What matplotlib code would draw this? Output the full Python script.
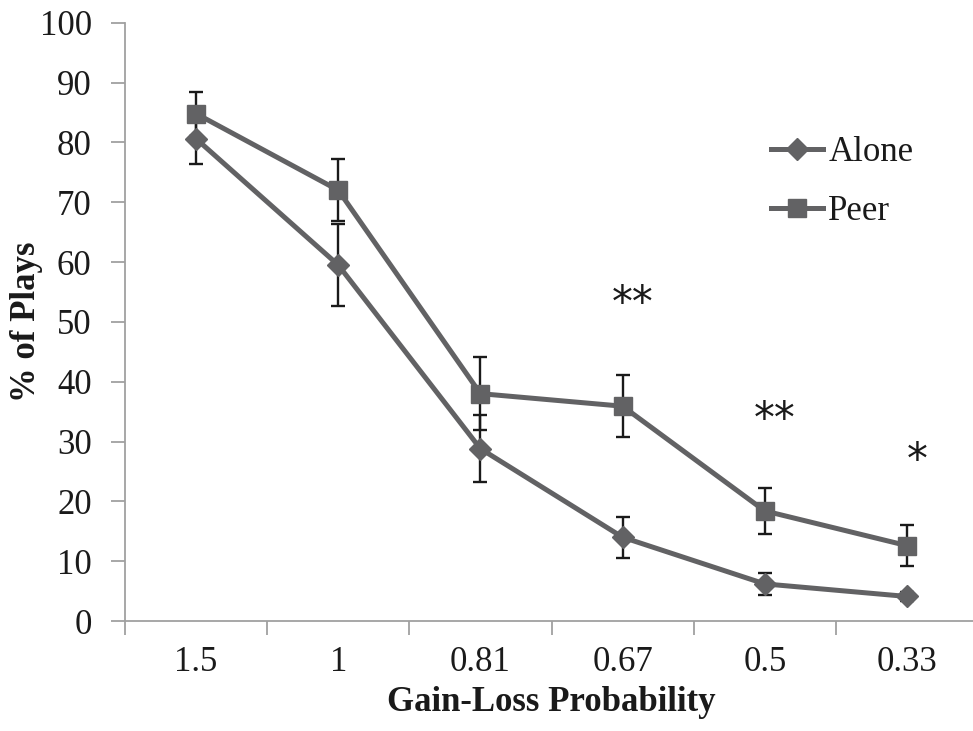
import matplotlib
matplotlib.use("Agg")
import matplotlib.pyplot as plt
import numpy as np

categories = ["1.5", "1", "0.81", "0.67", "0.5", "0.33"]
alone = [80.6, 59.5, 28.8, 14.0, 6.2, 4.1]
alone_err = [4.3, 6.8, 5.6, 3.4, 1.9, 0.8]
peer = [84.8, 72.0, 38.0, 35.9, 18.4, 12.6]
peer_err = [3.7, 5.2, 6.1, 5.2, 3.9, 3.45]
sig_labels = ["", "", "", "**", "**", "*"]
sig_y = [None, None, None, 53.0, 33.6, 26.8]

plt.rcParams['font.family'] = ['Liberation Serif', 'DejaVu Serif']

fig = plt.figure(figsize=(9.73, 7.31), dpi=100)
W, H = 973, 731
ax = fig.add_axes([125 / W, 110 / H, (978 - 125) / W, (621 - 22.7) / H])

x = np.arange(len(categories))
line_col = "#626264"

ax.errorbar(x, alone, yerr=alone_err, fmt='none', ecolor='#1a1a1a',
            elinewidth=1.7, capsize=5, capthick=1.7, zorder=2)
ax.errorbar(x, peer, yerr=peer_err, fmt='none', ecolor='#1a1a1a',
            elinewidth=1.7, capsize=5, capthick=1.7, zorder=2)
ax.plot(x, alone, color=line_col, lw=3.6, marker='D', markersize=11,
        markerfacecolor=line_col, markeredgecolor=line_col, label='Alone', zorder=3)
ax.plot(x, peer, color=line_col, lw=3.6, marker='s', markersize=13,
        markerfacecolor=line_col, markeredgecolor=line_col, label='Peer', zorder=3)

for xi, lab, yy in zip(x, sig_labels, sig_y):
    if lab:
        ax.text(xi + 0.07, yy, lab, ha='center', va='center', fontsize=30,
                color='#1a1a1a', family='DejaVu Sans')

ax.set_xlim(-0.5, len(categories) - 0.5)
ax.set_ylim(0, 100)
ax.set_yticks(np.arange(0, 101, 10))
ax.set_xticks(x)
ax.set_xticklabels(categories)
ax.set_xticks(np.arange(-0.5, len(categories), 1.0), minor=True)

for s in ['top', 'right']:
    ax.spines[s].set_visible(False)
for s in ['left', 'bottom']:
    ax.spines[s].set_color('#a0a0a0')
    ax.spines[s].set_linewidth(1.3)

ax.tick_params(axis='x', which='major', length=0, labelsize=25, pad=18, colors='#1a1a1a')
ax.tick_params(axis='x', which='minor', length=10, width=1.3, color='#a0a0a0', direction='out')
ax.tick_params(axis='y', length=10, width=1.3, color='#a0a0a0', labelsize=25, pad=14,
               labelcolor='#1a1a1a')

ax.set_xlabel("Gain-Loss Probability", fontsize=25, fontweight='bold', labelpad=5,
              color='#1a1a1a')
ax.set_ylabel("% of Plays", fontsize=25, fontweight='bold', color='#1a1a1a')
ax.yaxis.set_label_coords((43 - 125) / (978 - 125), 0.5)

leg = ax.legend(loc='upper left', bbox_to_anchor=((757 - 125) / (978 - 125), 1 - (122 - 22.7) / (621 - 22.7)),
                frameon=False, fontsize=25, handlelength=1.5, handletextpad=0.15,
                labelspacing=0.75, borderaxespad=0)
for t in leg.get_texts():
    t.set_color('#1a1a1a')

fig.savefig("out.png", dpi=100)
